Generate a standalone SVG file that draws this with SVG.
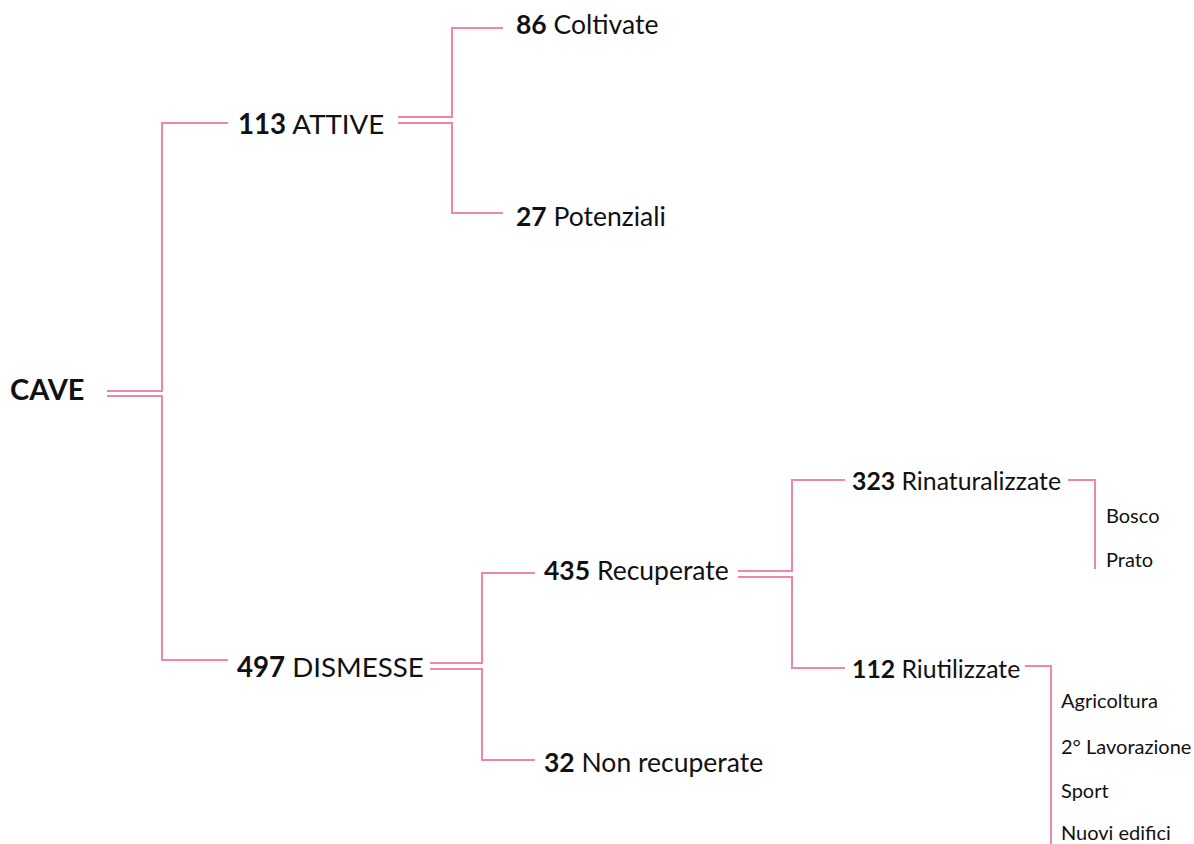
<svg xmlns="http://www.w3.org/2000/svg" width="1194" height="844" viewBox="0 0 1194 844">
<style>
.t{font-family:Lato,"Liberation Sans",sans-serif;fill:#111}
.b{font-weight:bold}
.l0{font-size:29px}
.l1{font-size:27.7px}
.l2{font-size:26.5px}
.l2b{font-size:24.8px}
.l3{font-size:20px}
.c{fill:none;stroke:#f085aa;stroke-width:2}
</style>
<rect width="1194" height="844" fill="#fff"/>
<g id="connectors">
<path class="c" d="M107 391H162V123H228"/>
<path class="c" d="M107 396H162V660H228"/>
<path class="c" d="M398 117H452V28H503"/>
<path class="c" d="M398 123H452V213H503"/>
<path class="c" d="M430 663H482V573H535"/>
<path class="c" d="M430 669H482V760H535"/>
<path class="c" d="M738 571H792V480H845"/>
<path class="c" d="M738 577H792V668H845"/>
<path class="c" d="M1068 480H1095V569"/>
<path class="c" d="M1025 666H1051V844"/>
</g>
<g id="cave"><text class="t b l0" x="10" y="400">CAVE</text></g>
<g id="attive"><text class="t l1" x="238" y="134"><tspan class="b">113</tspan> ATTIVE</text></g>
<g id="dismesse"><text class="t l1" x="237" y="677"><tspan class="b">497</tspan> DISMESSE</text></g>
<g id="coltivate"><text class="t l2" x="516" y="34"><tspan class="b">86</tspan> Coltivate</text></g>
<g id="potenziali"><text class="t l2" x="516" y="226"><tspan class="b">27</tspan> Potenziali</text></g>
<g id="recuperate"><text class="t l2" x="544" y="580"><tspan class="b">435</tspan> Recuperate</text></g>
<g id="nonrecuperate"><text class="t l2" x="544" y="772"><tspan class="b">32</tspan> Non recuperate</text></g>
<g id="rinaturalizzate"><text class="t l2b" x="852" y="490"><tspan class="b">323</tspan> Rinaturalizzate</text></g>
<g id="riutilizzate"><text class="t l2b" x="852" y="678"><tspan class="b">112</tspan> Riutilizzate</text></g>
<g id="bosco"><text class="t l3" x="1106" y="523">Bosco</text></g>
<g id="prato"><text class="t l3" x="1106" y="567">Prato</text></g>
<g id="agricoltura"><text class="t l3" x="1061" y="708">Agricoltura</text></g>
<g id="lavorazione"><text class="t l3" x="1061" y="754">2° Lavorazione</text></g>
<g id="sport"><text class="t l3" x="1061" y="798">Sport</text></g>
<g id="nuovi"><text class="t l3" x="1061" y="840">Nuovi edifici</text></g>
</svg>
